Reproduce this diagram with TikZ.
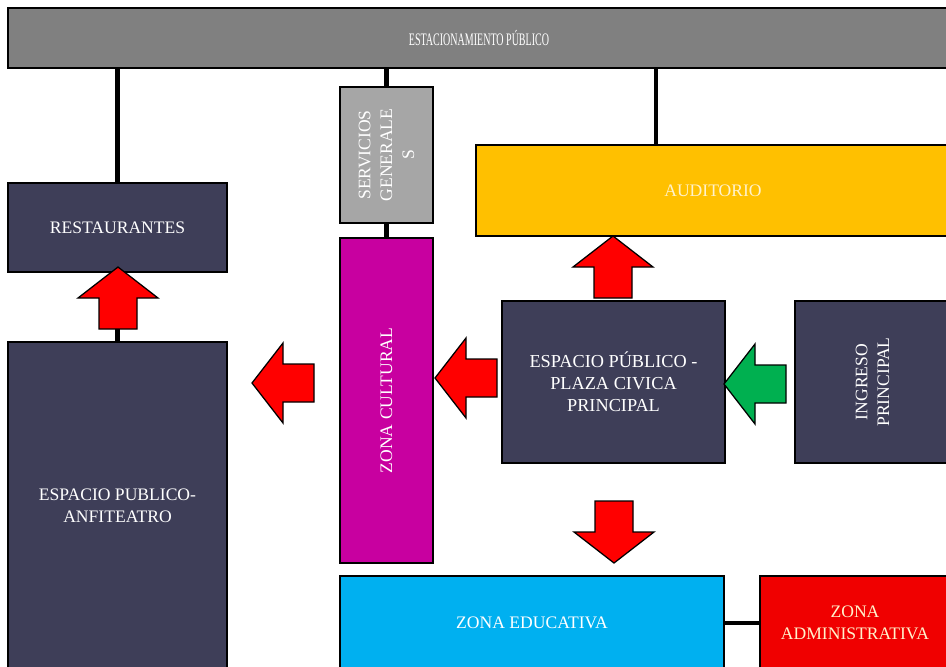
\documentclass[tikz,border=0pt]{standalone}
\usepackage{fontspec}
\setmainfont{Liberation Serif}
\usetikzlibrary{positioning,calc}
\definecolor{parkgrey}{RGB}{128,128,128}
\definecolor{servgrey}{RGB}{166,166,166}
\definecolor{slate}{RGB}{62,62,88}
\definecolor{culture}{RGB}{200,0,160}
\definecolor{amber}{RGB}{255,192,0}
\definecolor{skyblue}{RGB}{0,176,240}
\definecolor{adminred}{RGB}{240,0,0}
\definecolor{arrowred}{RGB}{255,0,0}
\definecolor{arrowgreen}{RGB}{0,176,80}
\definecolor{cream}{RGB}{255,242,204}

\begin{document}
\begin{tikzpicture}[x=0.025cm, y=-0.025cm,
  every node/.style={align=center,font=\fontsize{12.5}{15.5}\selectfont,text=white,inner sep=2pt},
  zone/.style={draw=black,line width=1.2pt},
  link/.style={draw=black,line width=3pt},
  blockarrow/.style={draw=black,line width=0.9pt,miter limit=20}]
  \fill[white] (0,0) rectangle (946,666);
  \clip (0,0) rectangle (946,666);
  % zones
  \node[zone,fill=parkgrey,minimum width=23.55cm,minimum height=1.5cm] (park) at (479,38)
    {\scalebox{0.57}[1]{ESTACIONAMIENTO PÚBLICO}};
  \node[zone,fill=servgrey,rotate=90,minimum width=3.4cm,minimum height=2.325cm] (serv) at (386.5,155)
    {SERVICIOS\\GENERALE\\S};
  \node[zone,fill=slate,minimum width=5.475cm,minimum height=2.225cm] (rest) at (117.5,227.5)
    {RESTAURANTES};
  \node[zone,fill=slate,minimum width=5.475cm,minimum height=8.2cm] (anfi) at (117.5,506)
    {ESPACIO PUBLICO-\\ANFITEATRO};
  \node[zone,fill=culture,rotate=90,minimum width=8.125cm,minimum height=2.325cm] (cult) at (386.5,400.5)
    {ZONA CULTURAL};
  \node[zone,fill=amber,text=cream,minimum width=11.85cm,minimum height=2.275cm] (aud) at (713,190.5)
    {AUDITORIO};
  \node[zone,fill=slate,minimum width=5.575cm,minimum height=4.05cm,font=\fontsize{13}{15.5}\selectfont] (plaza) at (613.5,382)
    {ESPACIO PÚBLICO -\\PLAZA CIVICA\\PRINCIPAL};
  \node[zone,fill=slate,rotate=90,minimum width=4.05cm,minimum height=3.875cm] (ingr) at (872.5,382)
    {INGRESO\\PRINCIPAL};
  \node[zone,fill=skyblue,minimum width=9.6cm,minimum height=2.35cm] (edu) at (532,623)
    {ZONA EDUCATIVA};
  \node[zone,fill=adminred,text=cream,minimum width=4.75cm,minimum height=2.35cm] (admin) at (855,623)
    {ZONA\\ADMINISTRATIVA};
  % links
  \coordinate (audtap) at (656,145);
  \draw[link] (rest.north) -- (rest.north |- park.south);
  \draw[link] (serv.east) -- (serv.east |- park.south);
  \draw[link] (audtap) -- (audtap |- park.south);
  \draw[link] (serv.west) -- (cult.east);
  \draw[link] (rest.south) -- (anfi.north);
  \draw[link] (edu.east) -- (admin.west);
  % block arrows
  \foreach \tx/\ty/\rot/\col in {118/267/0/arrowred,613/236/0/arrowred,614/563/180/arrowred,
                                 252/383/90/arrowred,435/378/90/arrowred,724/384/90/arrowgreen}{
    \draw[blockarrow,fill=\col,shift={(\tx,\ty)},rotate=\rot]
      (0,0) -- (40,31) -- (19,31) -- (19,62) -- (-19,62) -- (-19,31) -- (-40,31) -- cycle;}
\end{tikzpicture}
\end{document}
